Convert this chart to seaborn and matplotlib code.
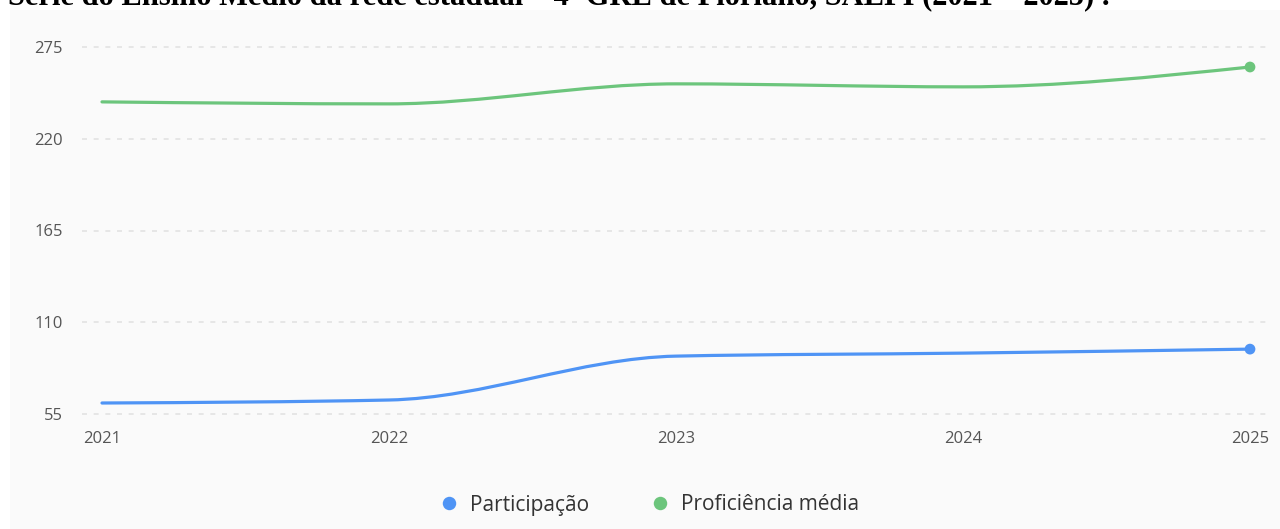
import matplotlib
matplotlib.use("Agg")
import matplotlib.pyplot as plt
from matplotlib.path import Path
from matplotlib.patches import PathPatch, Rectangle
import numpy as np
import pandas as pd
import seaborn as sns

# data
anos = [2021, 2022, 2023, 2024, 2025]
participacao = [61.6, 63.4, 89.7, 91.5, 93.9]
proficiencia = [242.1, 240.9, 252.9, 251.1, 263.0]
y_ticks = [55, 110, 165, 220, 275]

cores = {"Participação": "#4f94f5", "Proficiência média": "#6cc57c"}


def monotone_path(xs, ys):
    # smooth monotone cubic (like d3 curveMonotoneX) as a bezier path
    xs = np.asarray(xs, float)
    ys = np.asarray(ys, float)
    h = np.diff(xs)
    s = np.diff(ys) / h
    t = np.zeros(len(xs))
    for i in range(1, len(xs) - 1):
        p = (s[i - 1] * h[i] + s[i] * h[i - 1]) / (h[i - 1] + h[i])
        t[i] = (np.sign(s[i - 1]) + np.sign(s[i])) * min(abs(s[i - 1]), abs(s[i]), 0.5 * abs(p))
    t[0] = (3 * s[0] - t[1]) / 2
    t[-1] = (3 * s[-1] - t[-2]) / 2
    verts = [(xs[0], ys[0])]
    codes = [Path.MOVETO]
    for i in range(len(xs) - 1):
        dx = h[i] / 3
        verts += [(xs[i] + dx, ys[i] + dx * t[i]),
                  (xs[i + 1] - dx, ys[i + 1] - dx * t[i + 1]),
                  (xs[i + 1], ys[i + 1])]
        codes += [Path.CURVE4] * 3
    return Path(verts, codes)


sns.set_theme(style="white")
plt.rcParams["font.family"] = ["Open Sans", "DejaVu Sans"]

fig = plt.figure(figsize=(12.8, 5.29), dpi=100)
fig.patches.append(Rectangle((10 / 1280, 0), 1, 1 - 10 / 529, transform=fig.transFigure,
                             facecolor="#fafafa", edgecolor="none", zorder=-10))

# axes placed so that 55 -> y=414 px, 275 -> y=47 px; 2021 -> x=102, 2025 -> x=1250
ax = fig.add_axes([82 / 1280, 1 - 417.35 / 529, 1188 / 1280, 373.7 / 529])
ax.set_facecolor("none")

for nome, vals in [("Participação", participacao), ("Proficiência média", proficiencia)]:
    ax.add_patch(PathPatch(monotone_path(anos, vals), facecolor="none",
                           edgecolor=cores[nome], lw=2.3, capstyle="round", zorder=3))

ultimo = pd.DataFrame({
    "ano": [anos[-1], anos[-1]],
    "valor": [participacao[-1], proficiencia[-1]],
    "serie": ["Participação", "Proficiência média"],
})
sns.scatterplot(data=ultimo, x="ano", y="valor", hue="serie", palette=cores,
                s=60, edgecolor="none", ax=ax, zorder=4, clip_on=False)

ax.set_xlim(2021 - 20 / 287, 2025 + 20 / 287)
ax.set_ylim(53, 277)
ax.set_yticks(y_ticks)
ax.set_xticks(anos)
ax.set_xticklabels([str(a) for a in anos])
ax.grid(axis="y", color="#e3e3e3", linestyle=(0, (3, 4)), lw=1.2)
ax.grid(axis="x", visible=False)
for sp in ax.spines.values():
    sp.set_visible(False)
ax.tick_params(axis="both", length=0, labelsize=12, labelcolor="#555555")
ax.tick_params(axis="y", pad=14)
ax.tick_params(axis="x", pad=10)
ax.set_xlabel("")
ax.set_ylabel("")

leg = ax.legend(loc="center", bbox_to_anchor=(0.503, 1 - 505 / 529), bbox_transform=fig.transFigure,
                ncol=2, frameon=False, fontsize=15, handletextpad=0.0, columnspacing=2.4,
                markerscale=1.25)
for txt in leg.get_texts():
    txt.set_color("#333333")

fig.text(8 / 1280, 1 - 4 / 529,
         "Série do Ensino Médio da rede estadual – 4ª GRE de Floriano, SAEPI (2021 – 2025) .",
         family="Liberation Serif", fontweight="bold", fontsize=22, va="baseline", ha="left",
         color="black")

fig.savefig("out.png", dpi=100)
